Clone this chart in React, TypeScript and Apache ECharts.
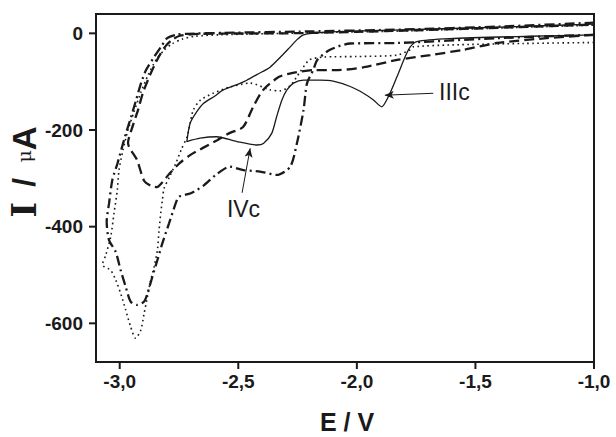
import React, { useEffect, useRef } from "react";
import * as echarts from "echarts";

// ---- axis range and tick values ----
const xRange = [-3.1, -1.0];
const yRange = [-680, 40];
const xTicks = [-3.0, -2.5, -2.0, -1.5, -1.0];
const yTicks = [0, -200, -400, -600];

// ---- solid curve (E / V, I / µA) in scan order ----
const solidE = [-1.0, -1.27, -1.61, -1.747, -1.775, -1.796, -1.831, -1.867, -1.895, -1.93, -1.972, -2.028, -2.1, -2.155, -2.225, -2.267, -2.295, -2.316, -2.338, -2.359, -2.394, -2.422, -2.506, -2.591, -2.661, -2.717, -2.703, -2.675, -2.647, -2.6, -2.563, -2.5, -2.464, -2.42, -2.366, -2.32, -2.281, -2.25, -2.225, -2.141, -1.817, -1.395, -1.0];
const solidI = [-3, -6, -11, -17, -28, -48, -90, -131, -152, -138, -124, -110, -99, -97, -97, -103, -117, -138, -172, -207, -228, -231, -224, -214, -217, -224, -186, -162, -145, -130, -117, -105, -97, -85, -70, -48, -28, -12, -3, 2, 7, 13, 19];

// ---- dashed curve ----
const dashedE = [-1.0, -1.2, -1.41, -1.55, -1.69, -1.83, -1.97, -2.08, -2.184, -2.27, -2.328, -2.395, -2.437, -2.48, -2.535, -2.589, -2.649, -2.703, -2.746, -2.788, -2.82, -2.843, -2.866, -2.897, -2.927, -2.965, -2.944, -2.923, -2.902, -2.872, -2.838, -2.809, -2.78, -2.746, -2.66, -2.3, -2.0, -1.5, -1.0];
const dashedI = [-3, -10, -20, -34, -45, -55, -70, -76, -76, -82, -90, -117, -152, -194, -206, -221, -237, -252, -268, -289, -308, -318, -316, -305, -262, -227, -190, -159, -123, -86, -51, -28, -14, -5, -1, 0, 3, 10, 18];

// ---- dash-dot curve ----
const dashDotE = [-1.0, -1.41, -1.83, -2.028, -2.113, -2.167, -2.184, -2.21, -2.225, -2.253, -2.281, -2.338, -2.408, -2.478, -2.535, -2.595, -2.644, -2.7, -2.75, -2.764, -2.792, -2.82, -2.841, -2.862, -2.883, -2.897, -2.926, -2.954, -2.975, -2.996, -3.017, -3.045, -3.055, -3.045, -3.031, -3.01, -2.99, -2.973, -2.952, -2.931, -2.91, -2.889, -2.855, -2.826, -2.8, -2.762, -2.716, -2.56, -2.2, -1.8, -1.4, -1.0];
const dashDotI = [-3, -10, -20, -21, -34, -55, -76, -103, -159, -228, -276, -293, -286, -283, -276, -293, -314, -331, -338, -352, -393, -434, -469, -503, -538, -555, -562, -555, -524, -490, -452, -428, -390, -352, -303, -270, -235, -206, -173, -138, -103, -76, -49, -28, -10, -3, -1, 1, 4, 8, 14, 22];

// ---- dotted curve ----
const dottedE = [-1.0, -1.3, -1.6, -1.762, -1.775, -1.83, -2.0, -2.14, -2.2, -2.24, -2.28, -2.324, -2.366, -2.45, -2.535, -2.606, -2.66, -2.69, -2.703, -2.716, -2.74, -2.76, -2.79, -2.813, -2.82, -2.827, -2.834, -2.841, -2.855, -2.869, -2.883, -2.897, -2.911, -2.933, -2.954, -2.975, -2.996, -3.017, -3.038, -3.073, -3.059, -3.038, -3.024, -3.01, -3.003, -2.986, -2.965, -2.94, -2.91, -2.88, -2.847, -2.813, -2.78, -2.737, -2.682, -2.577, -2.2, -1.8, -1.4, -1.0];
const dottedI = [-19, -21, -24, -28, -34, -45, -48, -49, -55, -80, -108, -119, -117, -103, -111, -124, -138, -159, -186, -214, -240, -265, -297, -321, -345, -372, -407, -448, -483, -510, -545, -579, -614, -631, -607, -572, -538, -510, -490, -479, -459, -421, -372, -324, -283, -241, -200, -163, -121, -86, -55, -35, -22, -12, -6, -3, 1, 5, 11, 17];

// ---- annotations ----
const labelTexts = ["IIIc", "IVc"];
const labelPos = [[-1.589, -121], [-2.478, -363]];
const arrowIIIc = [[-1.678, -124], [-1.882, -128]];
const arrowIVc = [[-2.484, -330], [-2.45, -238]];

const zip = (e: number[], i: number[]) => e.map((v, k) => [v, i[k]]);

const INK = "#1a1a1a";
const SANS = '"Liberation Sans", Arial, Helvetica, sans-serif';
const TICK_LEN = 7;

export default function App() {
  const ref = useRef<HTMLDivElement>(null);
  useEffect(() => {
    if (!ref.current) return;
    const chart = echarts.init(ref.current, null, { renderer: "svg" });
    const lineSeries = (name: string, data: number[][], lineStyle: any, extra: any = {}) => ({
      name,
      type: "line",
      data,
      showSymbol: false,
      symbol: "none",
      smooth: 0.25,
      clip: true,
      lineStyle: { color: INK, ...lineStyle },
      ...extra,
    });
    const axisCommon = {
      type: "value",
      axisLine: { show: true, onZero: false, lineStyle: { color: INK, width: 2 } },
      axisTick: { show: false },
      splitLine: { show: false },
    };
    // outward tick marks placed through the axes' own scales
    const tickSeries = (name: string, data: number[][], horizontal: boolean) => ({
      name,
      type: "custom",
      clip: false,
      silent: true,
      z: 5,
      data,
      renderItem: (params: any, api: any) => {
        const p = api.coord([api.value(0), api.value(1)]);
        return {
          type: "rect",
          shape: horizontal
            ? { x: p[0] - TICK_LEN, y: p[1] - 1, width: TICK_LEN, height: 2 }
            : { x: p[0] - 1, y: p[1], width: 2, height: TICK_LEN },
          style: { fill: INK },
        };
      },
    });
    chart.setOption({
      animation: false,
      backgroundColor: "#ffffff",
      grid: {
        left: 96,
        right: 22,
        top: 14,
        bottom: 75,
        show: true,
        borderWidth: 2,
        borderColor: INK,
        backgroundColor: "transparent",
      },
      xAxis: {
        ...axisCommon,
        min: xRange[0],
        max: xRange[1],
        axisLabel: {
          customValues: xTicks,
          formatter: (v: number) => v.toFixed(1).replace(".", ","),
          fontFamily: SANS,
          fontWeight: "bold",
          fontSize: 19,
          color: INK,
          margin: 10,
        },
      },
      yAxis: {
        ...axisCommon,
        min: yRange[0],
        max: yRange[1],
        axisLabel: {
          customValues: yTicks,
          formatter: (v: number) => String(v),
          fontFamily: SANS,
          fontWeight: "bold",
          fontSize: 19,
          color: INK,
          margin: 13,
        },
      },
      graphic: [
        {
          type: "text",
          x: 347,
          y: 422,
          style: {
            text: "E / V",
            fontFamily: SANS,
            fontWeight: "bold",
            fontSize: 25,
            fill: INK,
            align: "center",
            verticalAlign: "middle",
          },
        },
        {
          type: "text",
          x: 24,
          y: 172,
          rotation: Math.PI / 2,
          style: {
            text: "{i|I} {s|/} {m|μ}{a|A}",
            align: "center",
            verticalAlign: "middle",
            fill: INK,
            fontSize: 30,
            fontFamily: SANS,
            rich: {
              i: { fontFamily: '"DejaVu Serif", "Liberation Serif", serif', fontWeight: "bold", fontSize: 33, fill: INK },
              s: { fontFamily: SANS, fontWeight: "bold", fontSize: 32, fill: INK, padding: [0, 7, 0, 7] },
              m: { fontFamily: '"DejaVu Serif", serif', fontWeight: "normal", fontSize: 19, fill: INK },
              a: { fontFamily: SANS, fontWeight: "bold", fontSize: 33, fill: INK },
            },
          },
        },
      ],
      series: [
        lineSeries("solid", zip(solidE, solidI), { width: 1.3, type: "solid" }, {
          markLine: {
            silent: true,
            symbol: ["none", "arrow"],
            symbolSize: [6, 9],
            label: { show: false },
            lineStyle: { color: INK, width: 1, type: "solid" },
            data: [
              [{ coord: arrowIIIc[0] }, { coord: arrowIIIc[1] }],
              [{ coord: arrowIVc[0] }, { coord: arrowIVc[1] }],
            ],
          },
          markPoint: {
            silent: true,
            symbol: "circle",
            symbolSize: 0,
            itemStyle: { color: "transparent" },
            label: {
              show: true,
              position: "inside",
              formatter: (p: any) => p.name,
              fontFamily: SANS,
              fontSize: 23,
              color: INK,
            },
            data: labelTexts.map((t, k) => ({ name: t, coord: labelPos[k] })),
          },
        }),
        lineSeries("dashed", zip(dashedE, dashedI), { width: 2.3, type: [10, 5] }),
        lineSeries("dashdot", zip(dashDotE, dashDotI), { width: 2.3, type: [10, 4, 2, 4] }),
        lineSeries("dotted", zip(dottedE, dottedI), { width: 1.6, type: [1.6, 3.4] }),
        tickSeries("xticks", xTicks.map((v) => [v, yRange[0]]), false),
        tickSeries("yticks", yTicks.map((v) => [xRange[0], v]), true),
      ],
    });
    return () => chart.dispose();
  }, []);
  return (
    <div
      ref={ref}
      style={{ position: "fixed", left: 0, top: 0, width: 616, height: 437, background: "#fff" }}
    />
  );
}
